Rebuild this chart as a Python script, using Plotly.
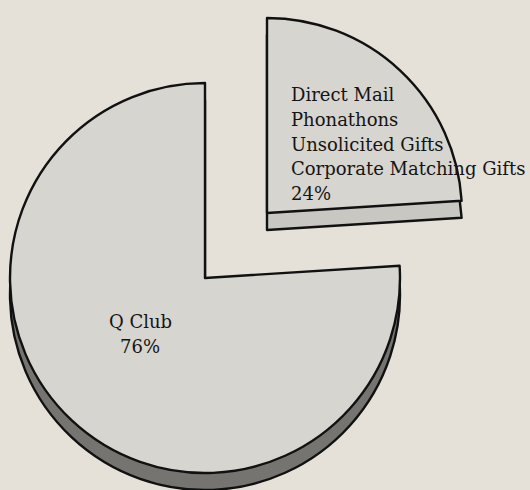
import plotly.graph_objects as go

# ---- data (clockwise from 12 o'clock) ----
categories = ["Other sources", "Q Club"]
label_lines = [
    ["Direct Mail", "Phonathons", "Unsolicited Gifts", "Corporate Matching Gifts"],
    ["Q Club"],
]
values = [24, 76]
exploded = [True, False]

# ---- style / layout constants ----
W, H = 530, 490
BG = "#e5e1d9"
FACE = "#d7d5d0"
DEPTH = ["#c9c7c1", "#767471"]
LINE = "#111111"
CLEAR = "rgba(0,0,0,0)"
R = 195                 # pie radius in px
MAIN_C = (205, 278)     # centre of main pie (px from top-left)
EXPL_OFF = (62, -65)    # offset of the exploded slice
DEPTH_PX = 17           # 3-D thickness
FONT = "DejaVu Serif"
LINE_H = 24.6           # text line spacing, px


def dom(cx, cy, r=R):
    return dict(x=[(cx - r) / W, (cx + r) / W],
                y=[(H - cy - r) / H, (H - cy + r) / H])


def centre(i):
    if exploded[i]:
        return (MAIN_C[0] + EXPL_OFF[0], MAIN_C[1] + EXPL_OFF[1])
    return MAIN_C


fig = go.Figure()


def add_pie(i, dy, fill):
    cx, cy = centre(i)
    n = len(values)
    colors = [fill if j == i else CLEAR for j in range(n)]
    lcol = [LINE if j == i else CLEAR for j in range(n)]
    lw = [2.4 if j == i else 0 for j in range(n)]
    fig.add_trace(go.Pie(
        labels=categories, values=values, sort=False,
        direction="clockwise", rotation=0,
        domain=dom(cx, cy + dy),
        marker=dict(colors=colors, line=dict(color=lcol, width=lw)),
        textinfo="none", hoverinfo="none", showlegend=False,
    ))


# depth layers first, then the top faces
for i in range(len(values)):
    add_pie(i, DEPTH_PX, DEPTH[i])
for i in range(len(values)):
    add_pie(i, 0, FACE)

# labels: text block anchored relative to each slice's centre
label_pos = {
    0: dict(dx=22, dy=-69, xanchor="left"),
    1: dict(dx=-65, dy=56, xanchor="center"),
}
for i, v in enumerate(values):
    cx, cy = centre(i)
    p = label_pos[i]
    lines = label_lines[i] + [f"{v}%"]
    top = cy + p["dy"] - LINE_H * (len(lines) - 1) / 2
    for k, txt in enumerate(lines):
        fig.add_annotation(
            x=(cx + p["dx"]) / W, y=(H - (top + k * LINE_H)) / H,
            xref="paper", yref="paper", showarrow=False,
            xanchor=p["xanchor"], yanchor="middle",
            text=txt,
            font=dict(family=FONT, size=18, color="#141414"),
        )

fig.update_layout(
    width=W, height=H,
    margin=dict(l=0, r=0, t=0, b=0),
    paper_bgcolor=BG, plot_bgcolor=BG,
)

fig.write_html(
    "out.html",
    config={"displayModeBar": False},
    post_script="document.body.style.margin='0';document.body.style.background='%s';" % BG,
)
